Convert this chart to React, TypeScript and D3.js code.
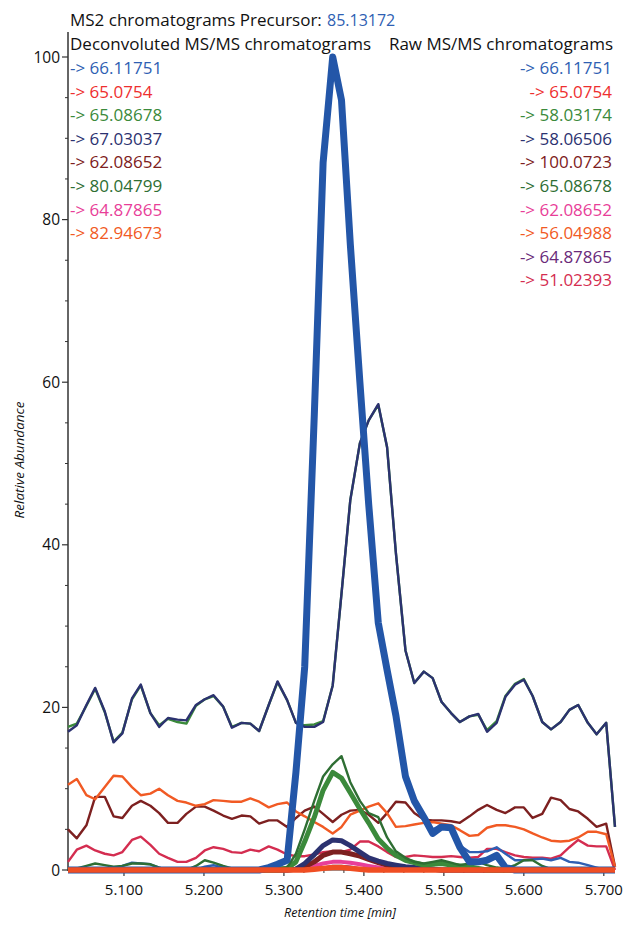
import React from 'react';
import * as d3 from 'd3';

// retention times (min) of the scans
const times = [
  5.030, 5.041, 5.053, 5.064, 5.076, 5.087, 5.098, 5.110, 5.121, 5.133,
  5.144, 5.155, 5.167, 5.178, 5.190, 5.201, 5.212, 5.224, 5.235, 5.247,
  5.258, 5.269, 5.281, 5.292, 5.304, 5.315, 5.326, 5.338, 5.349, 5.361,
  5.372, 5.383, 5.395, 5.406, 5.418, 5.429, 5.440, 5.452, 5.463, 5.475,
  5.486, 5.497, 5.509, 5.520, 5.532, 5.543, 5.554, 5.566, 5.577, 5.589,
  5.600, 5.611, 5.623, 5.634, 5.646, 5.657, 5.668, 5.680, 5.691, 5.703, 5.714,
];

// raw MS/MS traces (thin)
const raw58_06506 = [
  17.0, 17.8, 20.3, 22.4, 19.5, 15.7, 16.8, 21.1, 22.8, 19.3,
  17.6, 18.7, 18.5, 18.4, 20.3, 21.0, 21.5, 20.1, 17.5, 18.1,
  18.0, 17.1, 20.3, 23.2, 20.9, 18.1, 17.6, 17.6, 18.2, 22.7,
  34.0, 45.5, 52.5, 55.3, 57.3, 52.0, 39.0, 27.0, 23.0, 24.4,
  23.6, 20.7, 19.3, 18.2, 18.9, 19.2, 17.0, 18.1, 21.3, 22.8,
  23.4, 21.4, 18.2, 17.3, 18.2, 19.7, 20.3, 18.1, 16.7, 18.1, 5.3,
];
const raw58_03174 = [
  17.6, 18.0, 20.2, 22.3, 19.4, 15.8, 16.9, 21.0, 22.7, 19.3,
  17.8, 18.6, 18.2, 18.0, 20.2, 21.0, 21.4, 20.1, 17.6, 18.1,
  18.0, 17.1, 20.3, 23.1, 20.9, 18.1, 17.8, 17.9, 18.3, 22.7,
  34.0, 45.5, 52.5, 55.3, 57.2, 52.0, 39.0, 27.0, 23.0, 24.4,
  23.6, 20.7, 19.3, 18.2, 18.9, 19.1, 17.2, 18.3, 21.4, 22.9,
  23.5, 21.4, 18.2, 17.3, 18.2, 19.7, 20.3, 18.1, 16.7, 18.1, 5.3,
];
const raw66_11751 = [
  0, 0, 0, 0, 0, 0, 0.5, 0.9, 0.8, 0.7,
  0.3, 0, 0, 0, 0, 0.4, 0.6, 0.3, 0, 0,
  0, 0.2, 0.5, 0.8, 1.0, 11, 24, 55, 86, 99,
  95, 76, 59, 44, 30, 24, 18.5, 11, 8.5, 6.8,
  5.0, 5.5, 5.0, 3.0, 2.2, 2.2, 2.3, 2.8, 2.0, 1.2,
  1.2, 1.3, 1.4, 1.2, 1.5, 1.0, 0.9, 0.6, 0.3, 0, 0,
];
const raw56_04988 = [
  10.5, 11.2, 9.2, 8.7, 10.2, 11.6, 11.5, 10.2, 9.2, 9.4,
  10.0, 9.2, 8.5, 8.3, 7.9, 8.1, 8.6, 8.5, 8.4, 8.4,
  8.8, 8.4, 7.7, 8.1, 8.3, 7.2, 6.6, 5.9, 5.3, 4.5,
  5.3, 6.8, 7.3, 7.8, 8.2, 7.0, 5.3, 5.4, 5.6, 5.8,
  5.9, 5.7, 5.5, 4.9, 4.2, 4.3, 5.2, 5.5, 5.5, 5.3,
  5.0, 4.5, 4.0, 3.6, 3.5, 3.6, 4.0, 4.7, 4.7, 4.4, 0.4,
];
const raw100_0723 = [
  5.0, 3.9, 5.5, 9.0, 9.0, 6.6, 6.4, 7.9, 8.5, 7.9,
  7.0, 5.8, 5.8, 6.9, 7.8, 7.8, 7.3, 6.7, 6.3, 6.7,
  6.6, 5.7, 6.1, 6.1, 5.3, 6.4, 7.3, 7.8, 6.9, 5.9,
  6.8, 7.3, 7.4, 6.8, 5.8, 7.0, 8.4, 8.3, 7.0, 6.2,
  6.1, 6.1, 6.0, 5.8, 6.6, 7.4, 8.0, 7.4, 7.0, 7.7,
  7.7, 6.4, 6.9, 8.9, 8.6, 7.5, 7.2, 6.3, 5.3, 5.7, 0.4,
];
const raw51_02393 = [
  1.0, 2.5, 3.0, 2.4, 2.0, 1.8, 2.2, 3.7, 4.1, 3.1,
  2.0, 1.5, 1.0, 1.0, 1.5, 2.4, 2.8, 2.6, 2.2, 2.1,
  2.5, 2.3, 2.9, 2.5, 1.9, 1.7, 1.7, 1.9, 2.2, 2.3,
  2.2, 2.5, 3.5, 3.5, 2.9, 2.2, 1.6, 1.6, 1.8, 1.7,
  1.6, 1.6, 1.7, 1.6, 1.5, 1.6, 2.6, 2.6, 2.2, 1.8,
  1.6, 1.5, 1.5, 1.4, 1.8, 2.8, 3.7, 3.0, 2.9, 2.9, 0,
];
const raw65_08678 = [
  0, 0.2, 0.5, 0.8, 0.6, 0.4, 0.5, 0.8, 0.8, 0.7,
  0.3, 0, 0, 0, 0.5, 1.2, 0.9, 0.5, 0.2, 0.2,
  0.2, 0.1, 0.2, 0.3, 0.3, 2.0, 5.0, 8.5, 11.5, 13.0,
  14.0, 10.8, 8.5, 7.0, 6.5, 4.0, 2.3, 1.5, 1.0, 0.8,
  1.0, 1.2, 0.9, 0.6, 0.8, 1.0, 0.6, 0.3, 0.2, 0.6,
  1.2, 1.2, 0.5, 0.1, 0, 0, 0, 0, 0, 0, 0,
];
const raw64_87865 = [
  0, 0, 0, 0, 0, 0, 0, 0, 0, 0,
  0, 0, 0, 0, 0, 0, 0, 0, 0, 0,
  0, 0, 0, 0, 0, 0, 0.1, 0.2, 0.3, 0.5,
  0.5, 0.4, 0.2, 0.1, 0, 0, 0, 0, 0, 0,
  0, 0, 0, 0, 0, 0, 0, 0, 0, 0,
  0, 0, 0, 0, 0, 0, 0, 0, 0, 0, 0,
];

// deconvoluted traces (thick)
const dec66_11751 = [
  0, 0, 0, 0, 0, 0, 0, 0, 0, 0,
  0, 0, 0, 0, 0, 0, 0, 0, 0, 0,
  0, 0, 0.3, 0.7, 1.2, 12, 25, 56, 87, 100,
  94.7, 77, 60, 45, 30.4, 24.6, 19, 11.5, 8.5, 6.5,
  4.5, 5.3, 5.2, 2.8, 1.0, 1.0, 1.2, 1.8, 0.3, 0,
  0, 0, 0, 0, 0, 0, 0, 0, 0, 0, 0,
];
const dec65_08678 = [
  0, 0, 0, 0, 0, 0, 0, 0, 0, 0,
  0, 0, 0, 0, 0, 0, 0, 0, 0, 0,
  0, 0, 0, 0, 0.2, 1.0, 3.5, 6.5, 9.8, 12.0,
  11.3, 9.5, 7.5, 5.8, 3.8, 2.7, 1.8, 1.2, 0.9, 0.6,
  0.7, 0.8, 0.6, 0.5, 0.4, 0.2, 0, 0, 0, 0,
  0, 0, 0, 0, 0, 0, 0, 0, 0, 0, 0,
];
const dec67_03037 = [
  0, 0, 0, 0, 0, 0, 0, 0, 0, 0,
  0, 0, 0, 0, 0, 0, 0, 0, 0, 0,
  0, 0, 0, 0, 0, 0.1, 0.8, 1.9, 3.0, 3.7,
  3.6, 3.0, 2.2, 1.5, 1.1, 0.8, 0.6, 0.4, 0.3, 0.2,
  0.1, 0, 0, 0, 0, 0, 0, 0, 0, 0,
  0, 0, 0, 0, 0, 0, 0, 0, 0, 0, 0,
];
const dec62_08652 = [
  0, 0, 0, 0, 0, 0, 0, 0, 0, 0,
  0, 0, 0, 0, 0, 0, 0, 0, 0, 0,
  0, 0, 0, 0, 0, 0.1, 0.4, 1.0, 1.8, 2.2,
  2.2, 2.0, 1.7, 1.3, 0.9, 0.6, 0.4, 0.3, 0.2, 0.1,
  0.1, 0, 0, 0, 0, 0, 0, 0, 0, 0,
  0, 0, 0, 0, 0, 0, 0, 0, 0, 0, 0,
];
const dec64_87865 = [
  0, 0, 0, 0, 0, 0, 0, 0, 0, 0,
  0, 0, 0, 0, 0, 0, 0, 0, 0, 0,
  0, 0, 0, 0, 0, 0, 0.2, 0.5, 0.8, 1.0,
  1.0, 0.9, 0.7, 0.5, 0.3, 0.1, 0, 0, 0, 0,
  0, 0, 0, 0, 0, 0, 0, 0, 0, 0,
  0, 0, 0, 0, 0, 0, 0, 0, 0, 0, 0,
];
const dec82_94673 = [
  0, 0, 0, 0, 0, 0, 0, 0, 0, 0,
  0, 0, 0, 0, 0, 0, 0, 0, 0, 0,
  0, 0, 0, 0, 0, 0, 0, 0.1, 0.2, 0.3,
  0.3, 0.2, 0.1, 0, 0, 0, 0, 0, 0, 0,
  0, 0, 0, 0, 0, 0, 0, 0, 0, 0,
  0, 0, 0, 0, 0, 0, 0, 0, 0, 0, 0,
];

const precursor = '85.13172';
const decLabels = ['66.11751', '65.0754', '65.08678', '67.03037', '62.08652', '80.04799', '64.87865', '82.94673'];
const decColors = ['#2f5fb3', '#ee2f2f', '#3b8a3b', '#2c3270', '#7d2020', '#2e6e33', '#e83e98', '#f15a24'];
const rawLabels = ['66.11751', '65.0754', '58.03174', '58.06506', '100.0723', '65.08678', '62.08652', '56.04988', '64.87865', '51.02393'];
const rawColors = ['#2f5fb3', '#ee2f2f', '#3b8a3b', '#2c3270', '#7d2020', '#2e6e33', '#e83e98', '#f15a24', '#6a2a7a', '#d42d50'];
const xTicks = [5.1, 5.2, 5.3, 5.4, 5.5, 5.6, 5.7];
const yTicks = [0, 20, 40, 60, 80, 100];

const FONT = "'Open Sans', sans-serif";

export default function App() {
  const width = 624;
  const height = 925;
  const x = d3.scaleLinear().domain([5.03, 5.714]).range([68, 615]);
  const y = d3.scaleLinear().domain([0, 100]).range([870, 57]);

  const line = d3
    .line<number>()
    .x((_, i) => x(times[i]))
    .y((d) => y(d));

  // drawing order: bottom first
  const traces = [
    { v: raw51_02393, c: '#d42d50', w: 2.4 },
    { v: raw100_0723, c: '#7d2020', w: 2.4 },
    { v: raw56_04988, c: '#f15a24', w: 2.4 },
    { v: raw58_03174, c: '#3b8a3b', w: 2.4 },
    { v: raw58_06506, c: '#2c3270', w: 2.4 },
    { v: raw66_11751, c: '#2f5fb3', w: 2.4 },
    { v: dec64_87865, c: '#e83e98', w: 4 },
    { v: dec62_08652, c: '#7d2020', w: 5 },
    { v: raw64_87865, c: '#6a2a7a', w: 2.4 },
    { v: dec67_03037, c: '#2c3270', w: 5 },
    { v: dec65_08678, c: '#3b8a3b', w: 5 },
    { v: raw65_08678, c: '#2e6e33', w: 2.4 },
    { v: dec66_11751, c: '#2356a8', w: 7 },
    { v: dec82_94673, c: '#f04e23', w: 5.5 },
  ];

  const minorY = d3.range(0, 101, 5).filter((v) => v % 20 !== 0);
  const minorX = d3.range(5.05, 5.71, 0.025).filter((v) => Math.abs(v * 10 - Math.round(v * 10)) > 0.01);

  return (
    <div style={{ position: 'absolute', left: 0, top: 0 }}>
      <svg width={width} height={height} style={{ display: 'block', background: '#fff' }}>
        {/* axes */}
        <line x1={68} x2={68} y1={32} y2={871} stroke="#333" strokeWidth={1.5} />
        <line x1={68} x2={615} y1={870} y2={870} stroke="#333" strokeWidth={1} />
        {yTicks.map((t) => (
          <g key={'y' + t}>
            <line x1={62} x2={68} y1={y(t)} y2={y(t)} stroke="#333" strokeWidth={1.2} />
            <text x={60} y={y(t) + 5.5} textAnchor="end" fontFamily={FONT} fontSize={15.5} fill="#111">
              {t}
            </text>
          </g>
        ))}
        {minorY.map((t) => (
          <line key={'my' + t} x1={65} x2={68} y1={y(t)} y2={y(t)} stroke="#333" strokeWidth={1} />
        ))}
        {xTicks.map((t) => (
          <g key={'x' + t}>
            <line x1={x(t)} x2={x(t)} y1={870} y2={876} stroke="#333" strokeWidth={1.2} />
            <text x={x(t)} y={895} textAnchor="middle" fontFamily={FONT} fontSize={15} fill="#111">
              {t.toFixed(3)}
            </text>
          </g>
        ))}
        {minorX.map((t) => (
          <line key={'mx' + t} x1={x(t)} x2={x(t)} y1={870} y2={873} stroke="#333" strokeWidth={1} />
        ))}
        <text x={340} y={917} textAnchor="middle" fontFamily={FONT} fontStyle="italic" fontSize={12.5} fill="#111">
          Retention time [min]
        </text>
        <text
          transform="translate(24,460) rotate(-90)"
          textAnchor="middle"
          fontFamily={FONT}
          fontStyle="italic"
          fontSize={13.5}
          fill="#111"
        >
          Relative Abundance
        </text>

        {/* traces */}
        <g fill="none" strokeLinejoin="round">
          {traces.map((s, i) => (
            <path key={i} d={line(s.v) || ''} stroke={s.c} strokeWidth={s.w} />
          ))}
        </g>

        {/* header and legends */}
        <text x={70} y={26} fontFamily={FONT} fontSize={17} fill="#111">
          MS2 chromatograms Precursor:
        </text>
        <text x={327} y={26} fontFamily={FONT} fontSize={16} fill="#2f5fb3">
          {precursor}
        </text>
        <text x={70} y={50} fontFamily={FONT} fontSize={17} fill="#111">
          Deconvoluted MS/MS chromatograms
        </text>
        <text x={613} y={50} textAnchor="end" fontFamily={FONT} fontSize={17} fill="#111">
          Raw MS/MS chromatograms
        </text>
        {decLabels.map((l, i) => (
          <text key={'d' + i} x={70} y={74 + i * 23.6} fontFamily={FONT} fontSize={17} fill={decColors[i]}>
            {'-> ' + l}
          </text>
        ))}
        {rawLabels.map((l, i) => (
          <text key={'r' + i} x={612} y={74 + i * 23.6} textAnchor="end" fontFamily={FONT} fontSize={17} fill={rawColors[i]}>
            {'-> ' + l}
          </text>
        ))}
      </svg>
    </div>
  );
}
